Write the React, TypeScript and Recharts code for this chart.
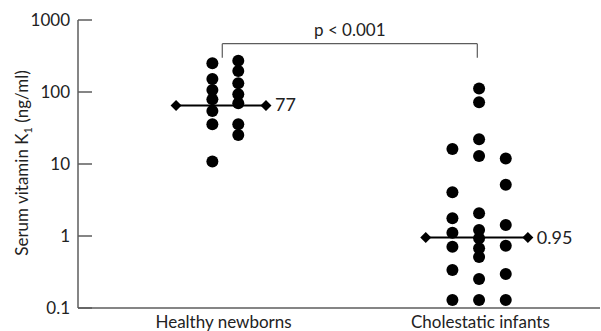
import React from "react";
import {
  ScatterChart,
  Scatter,
  XAxis,
  YAxis,
  ReferenceLine,
} from "recharts";

// group positions on the x axis (1 = healthy, 2 = cholestatic)
const categories = ["Healthy newborns", "Cholestatic infants"];
const categoryTicks = [0.994, 2.005];
const yTicks = [0.1, 1, 10, 100, 1000];

// healthy newborns, two columns
const healthyLeft = [250, 152, 107, 79, 54.5, 35.6, 10.8];
const healthyRight = [272, 196, 132, 93, 69.7, 35.6, 25.3];

// cholestatic infants, three columns
const cholestaticLeft = [16.2, 4.04, 1.76, 1.11, 0.71, 0.337, 0.129];
const cholestaticMid = [112, 72, 22, 12.9, 2.07, 1.21, 0.93, 0.675, 0.51, 0.253, 0.129];
const cholestaticRight = [11.9, 5.16, 1.42, 0.73, 0.296, 0.129];

// medians: drawn position, printed label
const medianValues = [65, 0.95];
const medianLabels = ["77", "0.95"];

const FONT = "Lato, 'Noto Sans', sans-serif";
const AXIS = "#5c5c5c";

const col = (x: number, values: number[]) => values.map((y) => ({ x, y }));

const dots = [
  ...col(0.95, healthyLeft),
  ...col(1.052, healthyRight),
  ...col(1.895, cholestaticLeft),
  ...col(2.0, cholestaticMid),
  ...col(2.105, cholestaticRight),
];

const medianHealthy = [
  { x: 0.807, y: medianValues[0] },
  { x: 1.161, y: medianValues[0], label: medianLabels[0] },
];
const medianChole = [
  { x: 1.79, y: medianValues[1] },
  { x: 2.192, y: medianValues[1], label: medianLabels[1] },
];

const Dot = (props: any) => {
  const { cx, cy } = props;
  return <circle cx={cx} cy={cy} r={6} fill="#000" />;
};

const Diamond = (props: any) => {
  const { cx, cy, payload } = props;
  const s = 5.5;
  return (
    <g>
      <polygon
        points={`${cx - s},${cy} ${cx},${cy - s} ${cx + s},${cy} ${cx},${cy + s}`}
        fill="#000"
      />
      {payload && payload.label ? (
        <text
          x={cx + 9}
          y={cy + 6}
          fontFamily={FONT}
          fontSize={18}
          fill="#222"
        >
          {payload.label}
        </text>
      ) : null}
    </g>
  );
};

const YTick = (props: any) => {
  const { x, y, payload } = props;
  return (
    <g>
      <line x1={x} x2={x + 14} y1={y} y2={y} stroke={AXIS} strokeWidth={1.5} />
      <text
        x={x - 8}
        y={y + 6}
        textAnchor="end"
        fontFamily={FONT}
        fontSize={17}
        fill="#222"
      >
        {String(payload.value)}
      </text>
    </g>
  );
};

const YLabel = () => (
  <text
    transform="translate(28,163) rotate(-90)"
    textAnchor="middle"
    fontFamily={FONT}
    fontSize={17}
    fill="#222"
  >
    Serum vitamin K
    <tspan fontSize={11} dy={4}>1</tspan>
    <tspan dy={-4}> (ng/ml)</tspan>
  </text>
);

export default function App() {
  return (
    <div style={{ position: "absolute", left: 0, top: 0, background: "#fff" }}>
      <ScatterChart
        width={601}
        height={331}
        margin={{ top: 20, right: 1, bottom: 0, left: 0 }}
      >
        <XAxis
          type="number"
          dataKey="x"
          domain={[0.421, 2.476]}
          ticks={categoryTicks}
          tickFormatter={(v: number, i: number) => categories[i]}
          tickLine={false}
          axisLine={{ stroke: AXIS, strokeWidth: 1.5 }}
          tick={{ fontFamily: FONT, fontSize: 17, fill: "#222" }}
          tickMargin={2}
          height={23}
          allowDataOverflow
        />
        <YAxis
          type="number"
          dataKey="y"
          scale="log"
          domain={[0.1, 1000]}
          ticks={yTicks}
          allowDataOverflow
          width={78}
          tickLine={false}
          tickSize={0}
          tickMargin={0}
          axisLine={{ stroke: AXIS, strokeWidth: 1.5 }}
          tick={<YTick />}
          label={<YLabel />}
        />
        <ReferenceLine
          segment={[{ x: 0.989, y: 469 }, { x: 1.993, y: 469 }]}
          stroke={AXIS}
          strokeWidth={1.2}
          label={{
            value: "p < 0.001",
            position: "top",
            fontFamily: FONT,
            fontSize: 17,
            fill: "#222",
            offset: 8,
          }}
        />
        <ReferenceLine
          segment={[{ x: 0.989, y: 469 }, { x: 0.989, y: 300 }]}
          stroke={AXIS}
          strokeWidth={1.2}
        />
        <ReferenceLine
          segment={[{ x: 1.993, y: 469 }, { x: 1.993, y: 300 }]}
          stroke={AXIS}
          strokeWidth={1.2}
        />
        <Scatter data={dots} shape={<Dot />} isAnimationActive={false} />
        <Scatter
          data={medianHealthy}
          shape={<Diamond />}
          line={{ stroke: "#000", strokeWidth: 2 }}
          isAnimationActive={false}
        />
        <Scatter
          data={medianChole}
          shape={<Diamond />}
          line={{ stroke: "#000", strokeWidth: 2 }}
          isAnimationActive={false}
        />
      </ScatterChart>
    </div>
  );
}
